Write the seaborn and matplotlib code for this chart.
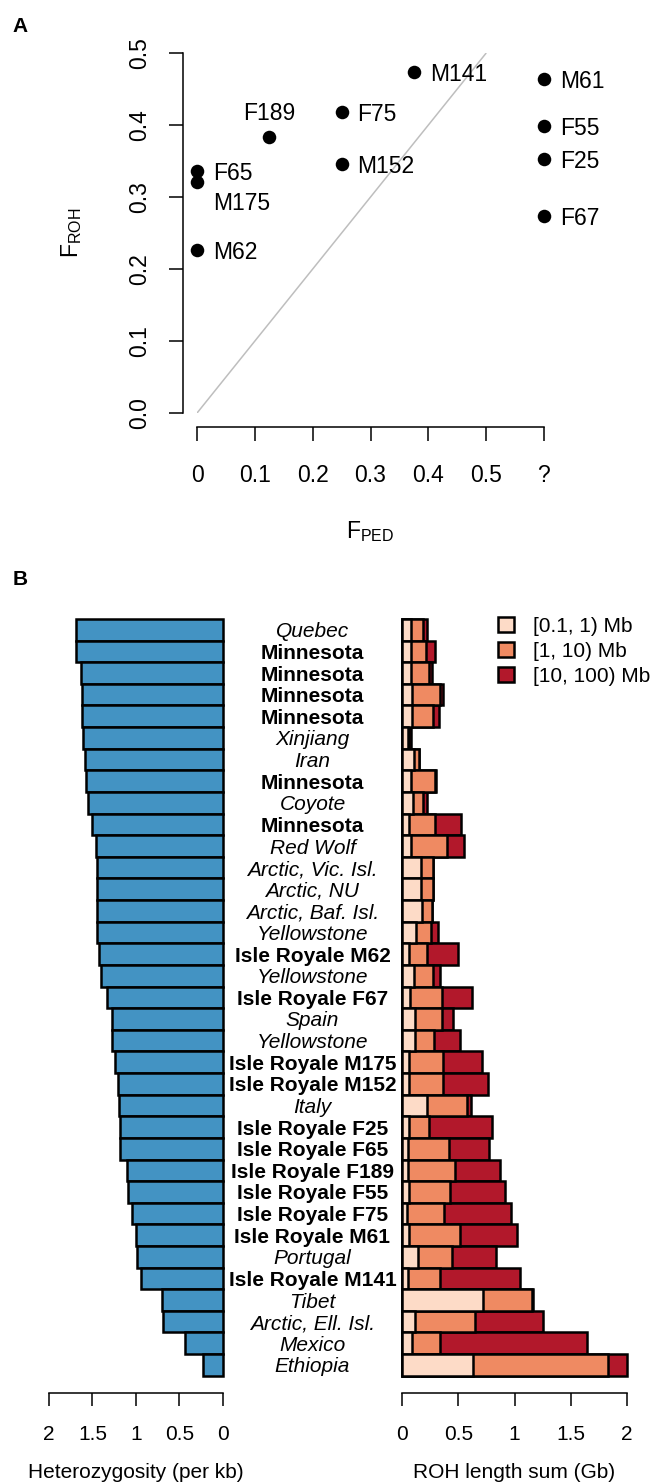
import numpy as np
import pandas as pd
import matplotlib
matplotlib.use("Agg")
import matplotlib.pyplot as plt
import seaborn as sns
from matplotlib.patches import Patch
from matplotlib.transforms import blended_transform_factory

# ---------------- data ----------------
# Panel A
wolf_ids = ["F65", "M175", "M62", "F189", "F75", "M152", "M141", "M61", "F55", "F25", "F67"]
f_ped = [0.0, 0.0, 0.0, 0.125, 0.25, 0.25, 0.375, np.nan, np.nan, np.nan, np.nan]
f_roh = [0.336, 0.321, 0.226, 0.383, 0.418, 0.346, 0.474, 0.464, 0.399, 0.353, 0.274]
xticks_a = [0, 0.1, 0.2, 0.3, 0.4, 0.5, 0.6]
xtick_labels_a = ["0", "0.1", "0.2", "0.3", "0.4", "0.5", "?"]
yticks_a = [0.0, 0.1, 0.2, 0.3, 0.4, 0.5]
ytick_labels_a = ["0.0", "0.1", "0.2", "0.3", "0.4", "0.5"]
UNKNOWN_POS = 0.6

# Panel B
sample_labels = ["Quebec", "Minnesota", "Minnesota", "Minnesota", "Minnesota", "Xinjiang",
                 "Iran", "Minnesota", "Coyote", "Minnesota", "Red Wolf", "Arctic, Vic. Isl.",
                 "Arctic, NU", "Arctic, Baf. Isl.", "Yellowstone", "Isle Royale M62",
                 "Yellowstone", "Isle Royale F67", "Spain", "Yellowstone", "Isle Royale M175",
                 "Isle Royale M152", "Italy", "Isle Royale F25", "Isle Royale F65",
                 "Isle Royale F189", "Isle Royale F55", "Isle Royale F75", "Isle Royale M61",
                 "Portugal", "Isle Royale M141", "Tibet", "Arctic, Ell. Isl.", "Mexico", "Ethiopia"]
bold_label = [False, True, True, True, True, False, False, True, False, True, False, False,
              False, False, False, True, False, True, False, False, True, True, False, True,
              True, True, True, True, True, False, True, False, False, False, False]
heterozygosity = [1.694, 1.690, 1.636, 1.624, 1.621, 1.613, 1.586, 1.575, 1.552, 1.502,
                  1.456, 1.452, 1.452, 1.448, 1.445, 1.425, 1.406, 1.336, 1.275, 1.275,
                  1.241, 1.203, 1.195, 1.187, 1.179, 1.106, 1.087, 1.041, 0.999, 0.984,
                  0.937, 0.696, 0.684, 0.431, 0.230]
roh_short = [0.075, 0.075, 0.078, 0.084, 0.087, 0.054, 0.101, 0.078, 0.095, 0.060,
             0.078, 0.164, 0.164, 0.176, 0.119, 0.060, 0.107, 0.066, 0.110, 0.110,
             0.060, 0.060, 0.217, 0.063, 0.054, 0.048, 0.063, 0.039, 0.058, 0.143,
             0.048, 0.722, 0.110, 0.086, 0.627]
roh_mid = [0.107, 0.133, 0.160, 0.249, 0.184, 0.010, 0.048, 0.211, 0.092, 0.234,
           0.323, 0.107, 0.107, 0.086, 0.134, 0.157, 0.169, 0.288, 0.241, 0.172,
           0.300, 0.300, 0.363, 0.178, 0.362, 0.425, 0.359, 0.335, 0.456, 0.296,
           0.291, 0.431, 0.541, 0.253, 1.209]
roh_long = [0.035, 0.086, 0.030, 0.027, 0.053, 0.010, 0.003, 0.014, 0.030, 0.226,
            0.149, 0.005, 0.003, 0.005, 0.062, 0.282, 0.060, 0.270, 0.101, 0.235,
            0.350, 0.407, 0.029, 0.558, 0.354, 0.401, 0.493, 0.595, 0.510, 0.400,
            0.710, 0.015, 0.600, 1.304, 0.164]
roh_classes = ["[0.1, 1) Mb", "[1, 10) Mb", "[10, 100) Mb"]
roh_colors = ["#FDDBC7", "#EF8A62", "#B2182B"]
het_color = "#4393C3"
xticks_b = [0, 0.5, 1, 1.5, 2]
xtick_labels_b = ["0", "0.5", "1", "1.5", "2"]

# ---------------- style ----------------
sns.set_theme(style="ticks")
plt.rcParams["font.family"] = ["Liberation Sans", "DejaVu Sans"]
plt.rcParams["mathtext.fontset"] = "custom"
plt.rcParams["mathtext.rm"] = "Liberation Sans"
for k in ["text.color", "axes.labelcolor", "xtick.color", "ytick.color", "axes.edgecolor"]:
    plt.rcParams[k] = "black"

W, H = 656, 1482
fig = plt.figure(figsize=(W / 100, H / 100), dpi=100)
EDGE_LW = 1.8


def ax_rect(l, t, r, b):
    return [l / W, 1 - b / H, (r - l) / W, (b - t) / H]


# ---------------- panel A ----------------
axA = fig.add_axes(ax_rect(197.3, 53.3, 543.7, 412.7))
fped_plot = np.where(np.isnan(f_ped), UNKNOWN_POS, f_ped)
dfA = pd.DataFrame({"id": wolf_ids, "fped": fped_plot, "froh": f_roh})
axA.plot([0, 0.5], [0, 0.5], color="#BEBEBE", lw=1.1, zorder=1)
sns.scatterplot(data=dfA, x="fped", y="froh", color="black", s=95, linewidth=0,
                ax=axA, clip_on=False, zorder=3, legend=False)
offsets = {"F189": (0, 19, "center", "center_baseline"),
           "M175": (11.5, -13.5, "left", "center_baseline")}
for _, r in dfA.iterrows():
    dx, dy, ha, va = offsets.get(r["id"], (11.5, 0, "left", "center_baseline"))
    axA.annotate(r["id"], (r["fped"], r["froh"]), xytext=(dx, dy), textcoords="offset points",
                 ha=ha, va=va, fontsize=16.5)
axA.set_xlim(0, 0.6)
axA.set_ylim(0, 0.5)
for s in ["top", "right"]:
    axA.spines[s].set_visible(False)
axA.spines["left"].set_position(("outward", 10.5))
axA.spines["bottom"].set_position(("outward", 10))
axA.spines["left"].set_bounds(0, 0.5)
axA.spines["bottom"].set_bounds(0, 0.6)
for s in ["left", "bottom"]:
    axA.spines[s].set_linewidth(1.1)
axA.set_xticks(xticks_a)
axA.set_xticklabels(xtick_labels_a)
axA.set_yticks(yticks_a)
axA.set_yticklabels(ytick_labels_a, rotation=90, va="center")
axA.tick_params(axis="both", direction="out", length=10.3, width=1.1, labelsize=16.5)
axA.tick_params(axis="x", pad=16.5)
axA.tick_params(axis="y", pad=12.5)
axA.set_xlabel(r"$\mathregular{F_{PED}}$", fontsize=16.5, va="center", ha="center")
axA.xaxis.set_label_coords(0.5, -0.33)
axA.set_ylabel(r"$\mathregular{F_{ROH}}$", fontsize=16.5, va="center", ha="center")
axA.yaxis.set_label_coords(-0.3626, 0.5)
fig.text(20 / W, 1 - 27 / H, "A", fontsize=15, fontweight="bold", ha="center", va="center")

# ---------------- panel B ----------------
n = len(sample_labels)
dfB = pd.DataFrame({
    "row": [str(i) for i in range(n)],
    "het": heterozygosity,
    "s1": roh_short,
    "s2": np.array(roh_short) + np.array(roh_mid),
    "s3": np.array(roh_short) + np.array(roh_mid) + np.array(roh_long),
})
order = dfB["row"].tolist()

axL = fig.add_axes(ax_rect(49, 619, 222.7, 1375.7))
sns.barplot(data=dfB, y="row", x="het", order=order, orient="h", color=het_color,
            saturation=1, edgecolor="black", linewidth=EDGE_LW, width=1, ax=axL)
axL.set_xlim(2, 0)
axL.set_ylim(n - 0.5, -0.5)

axR = fig.add_axes(ax_rect(402.3, 619, 626.7, 1375.7))
for col, c in zip(["s3", "s2", "s1"], roh_colors[::-1]):
    sns.barplot(data=dfB, y="row", x=col, order=order, orient="h", color=c,
                saturation=1, edgecolor="black", linewidth=EDGE_LW, width=1, ax=axR)
axR.set_xlim(0, 2)
axR.set_ylim(n - 0.5, -0.5)

for ax, ticks, labs, title in [(axL, xticks_b[::-1], xtick_labels_b[::-1], "Heterozygosity (per kb)"),
                               (axR, xticks_b, xtick_labels_b, "ROH length sum (Gb)")]:
    for s in ["top", "right", "left"]:
        ax.spines[s].set_visible(False)
    ax.spines["bottom"].set_position(("outward", 12.7))
    ax.spines["bottom"].set_linewidth(1.1)
    ax.set_yticks([])
    ax.set_ylabel("")
    ax.set_xticks(ticks)
    ax.set_xticklabels(labs)
    ax.tick_params(axis="x", direction="out", length=9, width=1.1, labelsize=15, pad=13.5)
    ax.set_xlabel(title, fontsize=15, va="center", ha="center")
    ax.xaxis.set_label_coords(0.5, -0.128)
    for p in ax.patches:
        p.set_clip_on(False)

trans = blended_transform_factory(fig.transFigure, axR.transData)
for i, (lab, b) in enumerate(zip(sample_labels, bold_label)):
    axR.text(312.5 / W, i, lab, transform=trans, ha="center", va="center_baseline",
             fontsize=15, fontweight="bold" if b else "normal",
             fontstyle="normal" if b else "italic")

handles = [Patch(facecolor=c, edgecolor="black", linewidth=EDGE_LW) for c in roh_colors]
fig.legend(handles, roh_classes, loc="upper left", bbox_to_anchor=(498.3 / W, 1 - 617 / H),
           frameon=False, fontsize=15, handlelength=0.75, handleheight=0.75,
           handletextpad=0.9, labelspacing=0.28, borderpad=0, borderaxespad=0)

fig.text(20 / W, 1 - 580 / H, "B", fontsize=15, fontweight="bold", ha="center", va="center")

fig.savefig("out.png", dpi=100)
